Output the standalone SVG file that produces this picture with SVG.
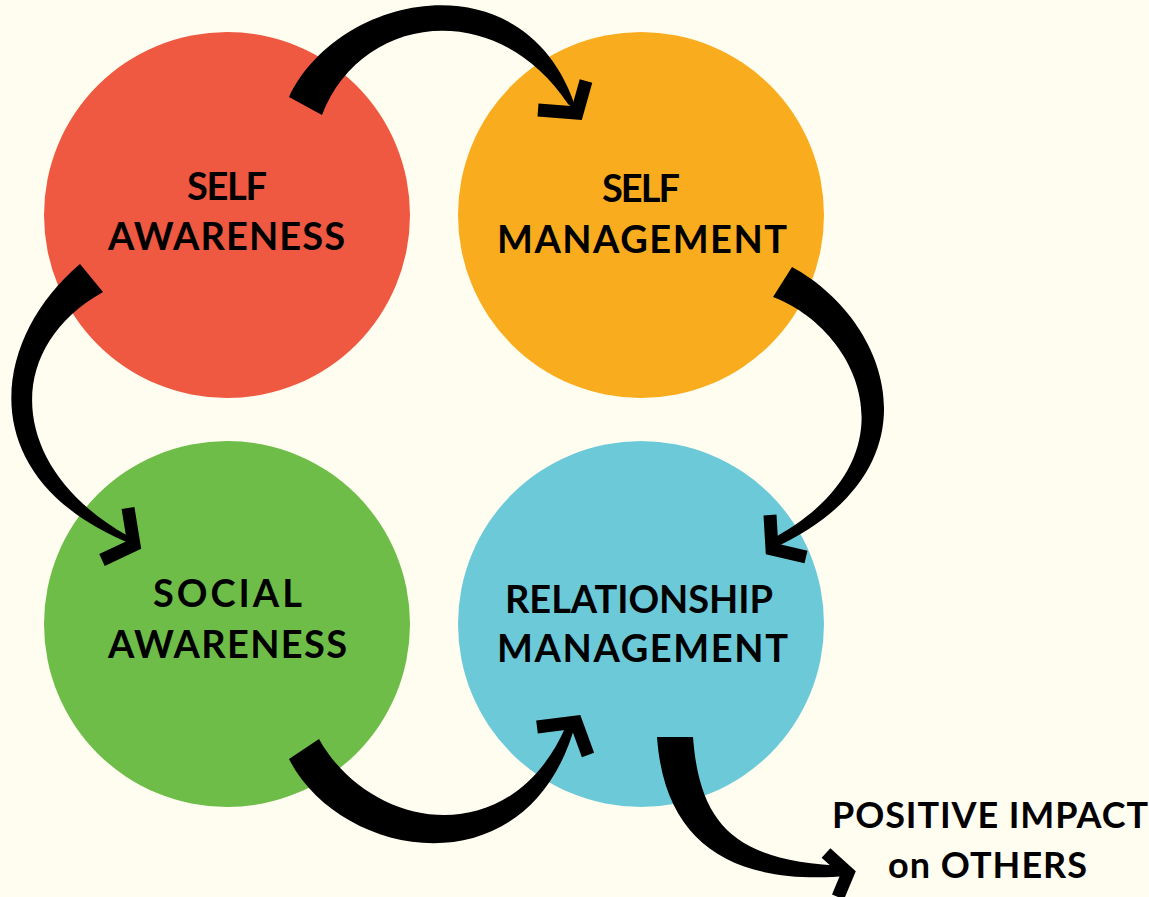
<svg xmlns="http://www.w3.org/2000/svg" width="1149" height="897" viewBox="0 0 1149 897">
<style>
.lbl{font-family:Lato,"Liberation Sans",sans-serif;font-weight:700;font-size:38px;fill:#000}
.sm{font-size:36px}
.body{fill:#000}
.head{fill:none;stroke:#000;stroke-width:13;stroke-linejoin:miter;stroke-miterlimit:10}
</style>
<rect width="1149" height="897" fill="#FFFDF0"/>
<g id="self-awareness">
<circle cx="227" cy="215" r="183" fill="#EF5841"/>
<text class="lbl" x="187" y="200" textLength="80" lengthAdjust="spacing">SELF</text>
<text class="lbl" x="108" y="250" textLength="237" lengthAdjust="spacing">AWARENESS</text>
</g>
<g id="self-management">
<circle cx="641" cy="215" r="183" fill="#F9AC1E"/>
<text class="lbl" x="602" y="202" textLength="78" lengthAdjust="spacing">SELF</text>
<text class="lbl" x="497" y="253" textLength="290" lengthAdjust="spacing">MANAGEMENT</text>
</g>
<g id="social-awareness">
<circle cx="227" cy="624" r="183" fill="#6EBD48"/>
<text class="lbl" x="153" y="607" textLength="149" lengthAdjust="spacing">SOCIAL</text>
<text class="lbl" x="108" y="658" textLength="239" lengthAdjust="spacing">AWARENESS</text>
</g>
<g id="relationship-management">
<circle cx="641" cy="624" r="183" fill="#6CCAD8"/>
<text class="lbl" x="505" y="613" textLength="268" lengthAdjust="spacing">RELATIONSHIP</text>
<text class="lbl" x="497" y="662" textLength="291" lengthAdjust="spacing">MANAGEMENT</text>
</g>
<g id="positive-impact">
<text class="lbl sm" x="832" y="828" textLength="316" lengthAdjust="spacing">POSITIVE IMPACT</text>
<text class="lbl sm" x="888" y="878" textLength="199" lengthAdjust="spacing">on OTHERS</text>
</g>
<g id="connectors">
<path class="body" d="M289,97 C340,-10 530,-45 577,112 L568,104 C495,-5 360,15 322,115 Z"/>
<polyline class="head" points="538,110 577,113 586,81"/>
<path class="body" d="M80,264 C-10,340 -30,480 134,545 L128,536 C10,470 0,350 103,292 Z"/>
<polyline class="head" points="128,508 134,545 102,560"/>
<path class="body" d="M792,267 C890,320 945,470 772,549 L770,540 C920,460 860,330 773,297 Z"/>
<polyline class="head" points="770,515 772,549 806,557"/>
<path class="body" d="M289,759 C340,860 530,895 576,722 L566,726 C510,855 370,830 319,739 Z"/>
<polyline class="head" points="537,727 576,722 588,755"/>
<path class="body" d="M657,737 C665,850 740,885 848,876 L848,866 C740,862 700,830 693,737 Z"/>
<polyline class="head" points="826,853 848,873 838,897"/>
</g>
</svg>
